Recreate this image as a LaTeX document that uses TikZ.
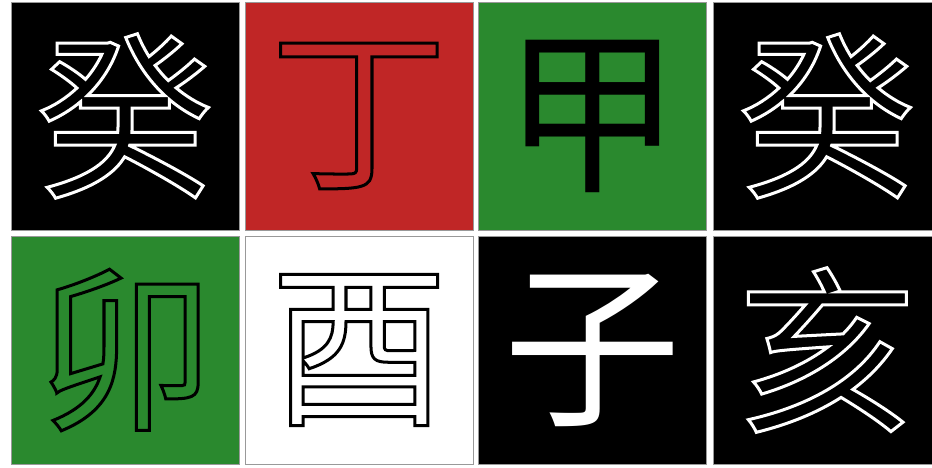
\documentclass[tikz,border=0pt]{standalone}
\usepackage{fontspec}
\newfontfamily\cjk{Noto Sans CJK SC}
\usetikzlibrary{positioning}
\definecolor{tilered}{RGB}{192,38,38}
\definecolor{tilegreen}{RGB}{42,137,46}
% outline only (pdf text render mode 1)
\newcommand\hollow[1]{\special{pdf:literal direct 1 Tr 3 w}#1\special{pdf:literal direct 0 Tr 0.4 w}}

\begin{document}
\begin{tikzpicture}[x=1pt,y=-1pt,
	tile/.style={draw=black!40, line width=0.6pt, minimum width=228pt, minimum height=228pt,
		inner sep=0pt, outer sep=0pt, anchor=north west},
	glyph/.style={inner sep=0pt, font=\cjk\fontsize{178}{178}\selectfont}]
	\useasboundingbox (0,0) rectangle (932,468);
	\foreach \Name/\X/\Y/\Back/\Fore/\Char/\Mode in
	{1/11/2/black/white/癸/\hollow, 2/245/2/tilered/black/丁/\hollow,
	 3/478/2/tilegreen/black/甲/\relax, 4/713/2/black/white/癸/\hollow,
	 5/11/236/tilegreen/black/卯/\hollow, 6/245/236/white/black/酉/\hollow,
	 7/478/236/black/white/子/\relax, 8/713/236/black/white/亥/\hollow}
	{
		\node[tile, fill=\Back] (t\Name) at (\X,\Y) {};
		\node[glyph, text=\Fore] (g\Name) at (t\Name.center) {\Mode{\Char}};
	}
\end{tikzpicture}
\end{document}
